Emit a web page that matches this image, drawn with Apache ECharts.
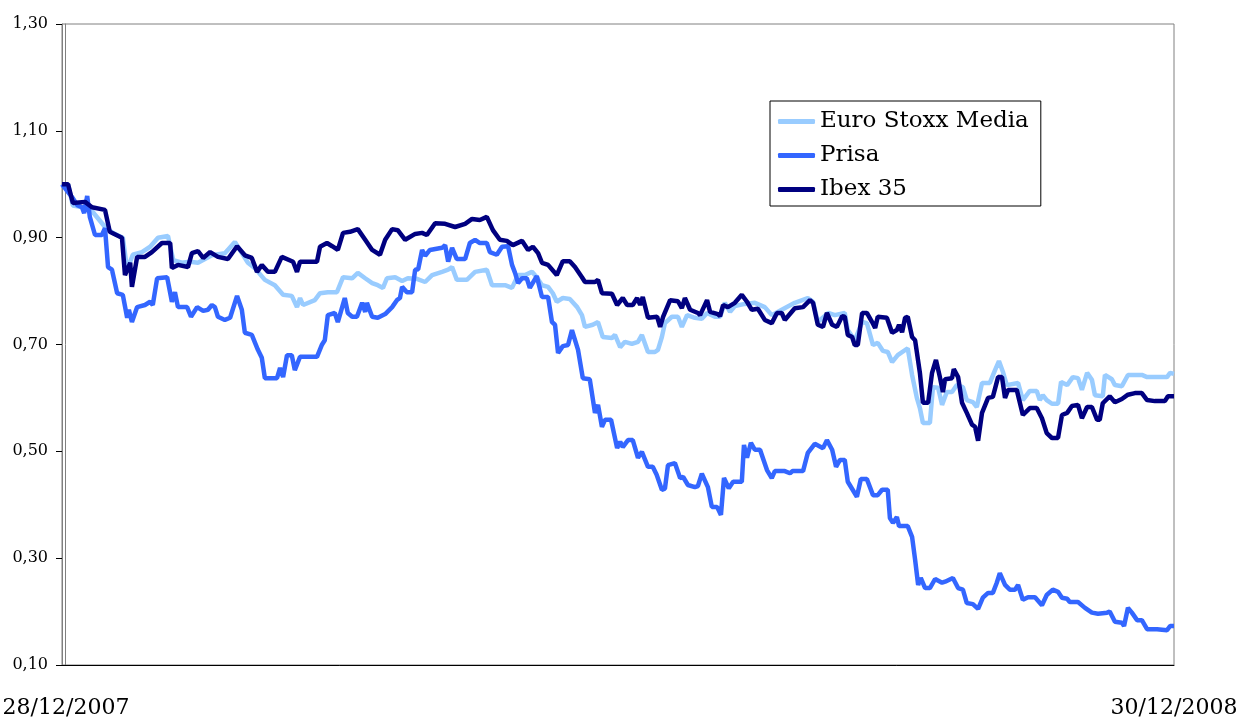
<!DOCTYPE html>
<html>
<head>
<meta charset="utf-8">
<script src="https://cdn.jsdelivr.net/npm/echarts@6/dist/echarts.min.js"></script>
<style>
html,body{margin:0;padding:0;background:#fff;}
#c{width:1236px;height:718px;}
</style>
</head>
<body>
<div id="c"></div>
<script>
// Trading-day index (0 = 28/12/2007, 256 = 30/12/2008) and normalised values
const seriesNames = ['Euro Stoxx Media', 'Prisa', 'Ibex 35'];
const xLabels = ['28/12/2007', '30/12/2008'];
const yTicks = [0.1, 0.3, 0.5, 0.7, 0.9, 1.1, 1.3];

const euroDay = [0,1.4,2.5,4.8,6.9,9.9,11.7,14.0,15.0,16.3,18.4,20.3,22.1,24.4,25.6,27.6,29.5,31.3,34.5,37.5,39.8,41.4,42.8,44.4,46.7,49.0,50.9,52.9,54.1,54.8,55.5,58.2,59.4,61.2,63.3,64.7,66.8,68.1,69.8,71.4,72.7,73.9,74.8,76.7,78.3,79.6,81.7,83.6,85.2,87.5,88.9,89.8,90.9,93.2,95.1,97.8,99.0,102.0,103.6,105.0,106.6,108.2,109.3,110.5,111.9,113.0,113.9,115.3,116.9,118.6,119.7,120.4,122.2,123.4,124.5,126.6,127.3,128.5,129.6,131.2,132.6,133.5,134.9,136.5,137.2,138.1,138.8,140.4,141.8,142.7,143.9,145.7,147.3,148.5,150.3,151.5,152.6,153.8,154.9,157.2,159.5,161.8,163.4,165.7,168.7,171.7,172.9,174.0,176.4,177.9,180.2,180.9,182.5,184.2,185.3,186.7,187.8,189.0,190.1,191.1,192.4,194.7,195.7,196.8,197.5,198.2,199.8,200.5,201.7,202.6,203.7,204.9,206.0,207.4,208.3,209.7,210.6,211.8,213.6,214.8,215.7,216.6,217.5,220.1,221.2,222.8,224.4,225.1,225.8,226.7,227.9,229.3,230.0,231.4,232.7,233.9,234.8,236.0,237.1,237.8,239.6,240.1,241.7,242.4,244.0,245.4,248.6,249.8,254.4,255.1,256.0];
const euroVal = [1.000,1.000,0.960,0.957,0.950,0.920,0.909,0.900,0.840,0.868,0.873,0.883,0.900,0.903,0.858,0.853,0.855,0.853,0.867,0.871,0.892,0.871,0.853,0.843,0.821,0.811,0.793,0.791,0.770,0.787,0.774,0.783,0.796,0.798,0.798,0.826,0.824,0.834,0.824,0.815,0.811,0.806,0.824,0.826,0.819,0.824,0.823,0.817,0.830,0.836,0.840,0.845,0.821,0.821,0.836,0.840,0.811,0.811,0.806,0.830,0.830,0.836,0.826,0.811,0.808,0.796,0.780,0.787,0.785,0.770,0.755,0.733,0.737,0.742,0.714,0.712,0.718,0.695,0.705,0.701,0.705,0.718,0.686,0.686,0.690,0.714,0.740,0.752,0.752,0.733,0.755,0.750,0.748,0.759,0.752,0.752,0.778,0.761,0.772,0.776,0.778,0.770,0.755,0.765,0.778,0.787,0.780,0.742,0.759,0.755,0.759,0.727,0.708,0.742,0.740,0.699,0.703,0.688,0.686,0.667,0.680,0.693,0.643,0.600,0.581,0.553,0.553,0.620,0.619,0.587,0.611,0.611,0.624,0.620,0.596,0.592,0.583,0.628,0.628,0.652,0.669,0.649,0.624,0.628,0.596,0.613,0.613,0.596,0.605,0.596,0.589,0.589,0.630,0.624,0.639,0.637,0.615,0.647,0.634,0.605,0.603,0.643,0.635,0.624,0.622,0.643,0.643,0.639,0.639,0.647,0.645];

const prisaDay = [0,2.3,3.5,4.6,5.1,5.8,6.4,7.6,9.2,9.9,10.6,11.5,12.7,14.0,15.0,15.4,16.1,17.3,19.1,20.3,20.9,21.9,24.2,25.3,26.0,26.7,28.8,29.7,31.1,32.5,33.6,34.5,35.2,35.9,37.5,38.7,40.3,41.4,42.1,43.7,45.1,46.0,46.7,49.5,50.2,50.9,51.8,52.9,53.6,54.8,58.7,59.8,60.5,61.2,62.8,63.5,65.1,65.8,66.8,67.9,69.1,69.8,70.2,71.4,72.7,74.4,76.0,77.1,77.8,78.3,79.4,80.6,81.3,82.0,82.9,83.6,84.7,87.5,88.2,88.9,89.8,90.9,92.8,93.9,95.1,96.2,97.8,98.5,100.1,101.3,102.7,103.6,104.3,105.0,105.9,107.0,107.7,109.3,110.5,111.9,112.8,113.5,114.2,115.3,116.5,117.4,118.8,119.9,121.5,122.7,123.4,124.3,125.0,126.4,127.8,128.5,129.1,130.3,131.4,132.6,133.5,134.9,136.0,136.9,138.1,138.8,139.5,141.1,142.3,143.0,144.1,145.7,146.4,147.3,148.7,149.6,150.8,151.7,152.4,153.5,154.5,156.5,157.0,157.7,158.6,159.5,160.7,162.3,163.4,164.1,166.4,167.6,168.2,170.6,171.7,173.3,175.2,176.1,177.3,178.2,179.1,180.2,180.9,183.0,183.9,185.3,186.7,187.8,188.8,190.1,190.6,191.3,192.2,192.7,194.7,195.7,196.4,197.1,197.7,198.7,199.8,201.0,202.6,203.3,205.1,206.3,207.4,208.3,209.7,210.9,212.0,213.2,214.3,215.2,215.9,217.1,218.2,219.4,220.1,221.2,222.4,224.0,225.6,226.7,228.1,229.3,230.2,231.4,232.0,233.9,235.5,237.1,238.5,240.6,241.2,242.4,244.0,244.5,245.4,246.3,247.5,248.6,249.8,252.1,254.4,255.1,256.0];
const prisaVal = [1.000,0.976,0.961,0.957,0.946,0.978,0.939,0.905,0.905,0.918,0.845,0.840,0.796,0.793,0.750,0.765,0.742,0.770,0.774,0.780,0.774,0.824,0.826,0.780,0.798,0.770,0.770,0.752,0.770,0.763,0.765,0.774,0.770,0.752,0.746,0.750,0.791,0.765,0.722,0.718,0.690,0.675,0.637,0.637,0.656,0.639,0.680,0.680,0.652,0.677,0.677,0.699,0.708,0.755,0.759,0.742,0.787,0.759,0.752,0.752,0.778,0.761,0.778,0.752,0.750,0.757,0.770,0.783,0.787,0.808,0.798,0.798,0.840,0.841,0.877,0.866,0.877,0.881,0.886,0.855,0.881,0.860,0.860,0.890,0.896,0.890,0.890,0.873,0.868,0.883,0.884,0.849,0.834,0.815,0.824,0.824,0.806,0.828,0.789,0.789,0.742,0.737,0.684,0.697,0.699,0.727,0.690,0.637,0.635,0.572,0.587,0.546,0.559,0.559,0.506,0.518,0.508,0.521,0.521,0.488,0.499,0.471,0.471,0.456,0.428,0.430,0.474,0.478,0.450,0.452,0.437,0.433,0.435,0.458,0.433,0.396,0.396,0.381,0.450,0.431,0.443,0.443,0.512,0.488,0.516,0.503,0.503,0.465,0.450,0.463,0.463,0.459,0.463,0.463,0.497,0.514,0.506,0.521,0.503,0.471,0.484,0.484,0.443,0.415,0.448,0.448,0.418,0.418,0.428,0.428,0.375,0.366,0.377,0.360,0.360,0.340,0.297,0.250,0.263,0.244,0.244,0.261,0.254,0.256,0.263,0.244,0.241,0.216,0.214,0.205,0.226,0.235,0.235,0.254,0.272,0.250,0.241,0.241,0.250,0.222,0.227,0.227,0.212,0.231,0.241,0.237,0.226,0.224,0.218,0.218,0.207,0.198,0.196,0.198,0.200,0.181,0.179,0.173,0.207,0.198,0.184,0.184,0.167,0.167,0.165,0.173,0.173];

const ibexDay = [0,1.4,2.5,5.3,6.9,9.9,11.0,13.8,14.5,15.7,16.1,17.3,19.1,20.7,23.0,24.9,25.3,26.7,29.0,29.9,31.3,32.5,34.1,35.9,38.2,40.3,42.1,43.7,44.9,46.0,47.4,49.0,50.6,53.2,54.1,54.8,58.7,59.4,61.0,62.2,63.5,64.7,66.3,68.1,69.8,71.4,73.2,74.4,76.0,77.3,79.0,81.3,82.9,84.0,85.9,88.2,90.5,92.8,94.4,96.2,97.8,99.2,100.8,102.4,103.8,105.9,107.3,108.4,109.6,110.5,111.9,113.9,115.3,116.9,118.1,119.7,120.4,122.7,123.4,124.3,126.6,127.8,129.1,130.1,131.4,132.4,133.1,133.7,134.9,137.0,137.7,138.4,140.0,141.8,142.7,143.4,144.6,146.4,146.9,148.5,149.2,151.0,151.5,152.2,153.3,154.9,156.5,157.7,158.8,160.2,161.8,163.4,164.6,165.7,166.4,168.7,170.6,172.2,172.9,174.0,175.2,176.1,177.3,178.4,179.6,180.2,180.9,181.9,182.5,183.2,184.2,185.3,186.5,187.2,187.8,189.9,191.1,192.2,192.7,193.4,194.1,194.7,195.7,196.4,197.5,198.2,199.4,200.3,201.2,202.1,202.8,203.3,204.9,205.3,206.3,207.2,208.3,209.5,210.2,210.9,211.8,213.2,214.3,215.5,216.4,217.1,217.8,219.8,221.2,222.8,224.4,225.6,226.7,227.9,229.3,230.2,231.4,232.5,233.9,234.8,236.0,237.1,238.3,238.9,239.6,241.2,242.4,244.0,245.4,247.0,248.6,249.8,251.6,253.9,254.6,256.0];
const ibexVal = [1.000,1.000,0.965,0.967,0.957,0.952,0.911,0.900,0.830,0.853,0.808,0.864,0.864,0.873,0.890,0.890,0.843,0.849,0.845,0.871,0.875,0.862,0.873,0.864,0.860,0.884,0.867,0.862,0.836,0.849,0.836,0.836,0.864,0.855,0.836,0.855,0.855,0.883,0.890,0.884,0.877,0.909,0.911,0.916,0.896,0.877,0.868,0.896,0.916,0.914,0.896,0.907,0.909,0.905,0.927,0.926,0.920,0.926,0.935,0.933,0.939,0.914,0.896,0.894,0.886,0.894,0.877,0.883,0.871,0.853,0.849,0.830,0.856,0.856,0.845,0.826,0.817,0.817,0.821,0.796,0.795,0.774,0.787,0.774,0.774,0.787,0.774,0.789,0.750,0.752,0.733,0.752,0.783,0.781,0.768,0.787,0.765,0.759,0.755,0.783,0.761,0.757,0.753,0.774,0.770,0.778,0.793,0.780,0.765,0.767,0.746,0.740,0.759,0.759,0.746,0.768,0.770,0.783,0.778,0.737,0.733,0.759,0.737,0.733,0.753,0.752,0.718,0.714,0.699,0.699,0.759,0.759,0.742,0.731,0.752,0.750,0.722,0.727,0.737,0.723,0.750,0.752,0.714,0.708,0.647,0.591,0.591,0.647,0.671,0.639,0.611,0.635,0.637,0.654,0.639,0.591,0.572,0.550,0.546,0.520,0.572,0.600,0.602,0.639,0.639,0.600,0.615,0.615,0.568,0.581,0.581,0.562,0.534,0.525,0.525,0.568,0.572,0.585,0.587,0.562,0.583,0.583,0.559,0.559,0.590,0.603,0.592,0.598,0.606,0.609,0.609,0.596,0.594,0.594,0.603,0.603];

const colors = ['#99CCFF', '#3366FF', '#000080'];
const zip = (d, v) => d.map((x, i) => [x, v[i]]);
const seriesData = [zip(euroDay, euroVal), zip(prisaDay, prisaVal), zip(ibexDay, ibexVal)];

const chart = echarts.init(document.getElementById('c'), null, {renderer: 'canvas'});
const fam = '"DejaVu Serif", "Liberation Serif", serif';
const yFmt = v => v.toFixed(2).replace('.', ',');

chart.setOption({
  animation: false,
  backgroundColor: '#ffffff',
  textStyle: {fontFamily: fam},
  grid: {left: 62, right: 62, top: 24, bottom: 53, containLabel: false, outerBoundsMode: 'none',
         show: true, borderColor: '#808080', borderWidth: 1},
  legend: {
    orient: 'vertical', left: 770, top: 101,
    data: seriesNames,
    icon: 'roundRect',
    itemWidth: 37, itemHeight: 5, itemGap: 7,
    padding: [7, 12, 3, 8],
    borderColor: '#000', borderWidth: 1, backgroundColor: '#fff',
    textStyle: {fontFamily: fam, fontSize: 23, color: '#000', lineHeight: 27}
  },
  xAxis: {
    type: 'value', min: 0, max: 256,
    axisLine: {show: true, onZero: false, lineStyle: {color: '#000', width: 1}},
    axisTick: {show: false},
    splitLine: {show: false},
    axisLabel: {
      customValues: [0, 256],
      margin: 32,
      fontSize: 22, fontFamily: fam, color: '#000',
      formatter: v => (v === 0 ? '{a|' + xLabels[0] + '}' : xLabels[1]),
      rich: {a: {fontSize: 22, fontFamily: fam, color: '#000', padding: [0, 0, 0, 8]}}
    }
  },
  yAxis: [{
    type: 'value', min: 0.1, max: 1.3,
    axisLine: {show: true, lineStyle: {color: '#808080', width: 1}},
    axisTick: {show: true, customValues: yTicks, length: 6, lineStyle: {color: '#000'}},
    splitLine: {show: false},
    axisLabel: {customValues: yTicks, margin: 14, fontSize: 16, fontFamily: fam, color: '#000', formatter: yFmt}
  }, {
    type: 'value', min: 0.1, max: 1.3, position: 'left', offset: -3,
    axisLine: {show: true, lineStyle: {color: '#808080', width: 1}},
    axisTick: {show: false}, axisLabel: {show: false}, splitLine: {show: false}
  }],
  series: seriesNames.map((name, i) => ({
    name, type: 'line', data: seriesData[i],
    showSymbol: false, symbol: 'none',
    color: colors[i],
    lineStyle: {color: colors[i], width: 4.5},
    z: 2 + i
  }))
});
</script>
</body>
</html>
